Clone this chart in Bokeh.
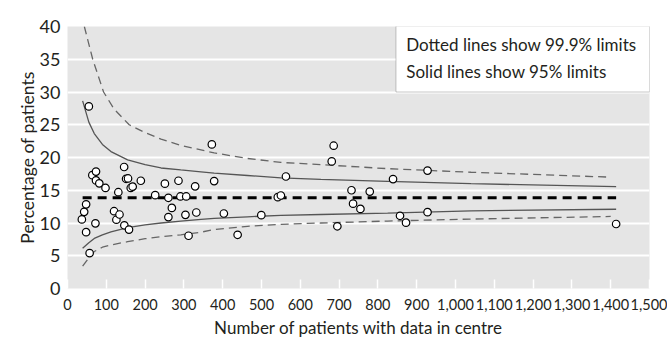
from bokeh.plotting import figure
from bokeh.models import FixedTicker, NumeralTickFormatter, BoxAnnotation, Label, Range1d
from bokeh.embed import file_html
from bokeh.resources import INLINE

# ---- data ----
centre_n = [55, 37, 43, 48, 48, 57, 64, 73.5, 73.5, 82, 72, 98, 120, 126, 134, 131, 146, 151, 156, 163,
            168, 146.5, 158.5, 189, 226, 251, 260, 260, 269, 286, 291, 306, 304, 312, 329, 332, 372, 378,
            403, 438.5, 499.5, 542, 550, 563, 681, 686, 695.5, 732, 736, 755, 779, 839, 857, 872.5, 928,
            928, 1414]
centre_pct = [27.8, 10.55, 11.7, 12.85, 8.6, 5.4, 17.3, 17.85, 16.5, 16.05, 9.95, 15.35, 11.8, 10.5, 11.3,
              14.7, 18.55, 16.75, 16.8, 15.35, 15.55, 9.65, 9.0, 16.45, 14.25, 16.0, 13.85, 10.9, 12.3,
              16.45, 14.05, 14.05, 11.25, 8.05, 15.6, 11.6, 22.0, 16.4, 11.45, 8.2, 11.2, 13.95, 14.2, 17.1,
              19.4, 21.8, 9.5, 15.0, 12.95, 12.15, 14.8, 16.7, 11.1, 10.05, 18.0, 11.65, 9.85]

target_n = [39, 1414]
target_pct = [13.85, 13.85]

limit_n = [39, 55, 69, 90, 112, 155, 200, 241, 292, 344, 378, 464, 550, 653, 825, 1040, 1414]
upper95 = [28.65, 25.4, 23.65, 22.0, 20.9, 19.65, 18.9, 18.4, 18.1, 17.8, 17.6, 17.25, 16.9, 16.65, 16.35, 16.0, 15.55]
lower95 = [6.15, 7.0, 7.65, 8.2, 8.65, 9.3, 9.7, 10.0, 10.3, 10.55, 10.7, 10.95, 11.15, 11.3, 11.5, 11.85, 12.1]

upper999_n = [43.4, 65, 93, 120, 159, 200, 241, 292, 344, 378, 464, 550, 653, 825, 1040, 1400]
upper999 = [40.0, 35.0, 30.0, 27.4, 25.0, 23.8, 22.8, 21.85, 21.15, 20.7, 19.85, 19.25, 18.9, 18.3, 17.75, 17.0]
lower999_n = [39, 55, 69, 90, 112, 155, 200, 241, 292, 344, 378, 464, 550, 653, 825, 1040, 1400]
lower999 = [3.4, 4.7, 5.65, 6.3, 6.65, 7.15, 7.6, 7.9, 8.2, 8.6, 9.0, 9.5, 9.8, 10.0, 10.3, 10.6, 11.0]

x_ticks = list(range(0, 1501, 100))
y_ticks = [0, 5, 10, 15, 20, 25, 30, 35, 40]
grid_ticks = [5, 10, 15, 20, 25, 30, 35]

x_title = "Number of patients with data in centre"
y_title = "Percentage of patients"
legend_lines = ["Dotted lines show 99.9% limits", "Solid lines show 95% limits"]

FONT = "Lato"
TXT = "#231f20"

p = figure(width=667, height=340, output_backend="svg", toolbar_location=None,
           x_range=Range1d(0, 1500), y_range=Range1d(0, 40),
           min_border_left=67, min_border_right=18, min_border_top=26, min_border_bottom=47)
p.background_fill_color = "#e5e5e5"
p.border_fill_color = "white"
p.outline_line_color = None

# grid
p.xgrid.grid_line_color = None
p.ygrid.ticker = FixedTicker(ticks=grid_ticks)
p.ygrid.grid_line_color = "white"
p.ygrid.grid_line_width = 2

# x axis
xa = p.xaxis[0]
xa.ticker = FixedTicker(ticks=x_ticks)
xa.formatter = NumeralTickFormatter(format="0,0")
xa.axis_line_color = None
xa.major_tick_in = 9
xa.major_tick_out = 0
xa.major_tick_line_color = "white"
xa.major_tick_line_width = 1.5
xa.minor_tick_line_color = None
xa.major_label_text_font = FONT
xa.major_label_text_font_size = "14.5px"
xa.major_label_text_color = TXT
xa.major_label_text_line_height = 0.9
xa.major_label_standoff = 10
xa.axis_label = x_title
xa.axis_label_text_font = FONT
xa.axis_label_text_font_size = "17px"
xa.axis_label_text_font_style = "normal"
xa.axis_label_text_color = TXT
xa.axis_label_text_line_height = 0.9
xa.axis_label_standoff = 4

# y axis
ya = p.yaxis[0]
ya.ticker = FixedTicker(ticks=y_ticks)
ya.axis_line_color = None
ya.major_tick_in = 0
ya.major_tick_out = 0
ya.minor_tick_line_color = None
ya.major_label_text_font = FONT
ya.major_label_text_font_size = "18px"
ya.major_label_text_color = TXT
ya.major_label_standoff = 7
ya.axis_label = y_title
ya.axis_label_text_font = FONT
ya.axis_label_text_font_size = "17.5px"
ya.axis_label_text_font_style = "normal"
ya.axis_label_text_color = TXT
ya.axis_label_standoff = -1

# limit lines
p.line(upper999_n, upper999, line_color="#666666", line_width=1.3, line_dash="8 5")
p.line(lower999_n, lower999, line_color="#666666", line_width=1.3, line_dash="8 5")
p.line(limit_n, upper95, line_color="#555555", line_width=1.3)
p.line(limit_n, lower95, line_color="#555555", line_width=1.3)
p.line(target_n, target_pct, line_color="black", line_width=3, line_dash="9 6")

# centres
p.scatter(centre_n, centre_pct, size=7.5, marker="circle", fill_color="white",
          line_color="black", line_width=1.2)

# legend box
box = BoxAnnotation(left=846.6, right=1500, bottom=30.0, top=40.1,
                    fill_color="white", fill_alpha=1.0, line_color="#444444", line_width=1)
p.add_layout(box)
for i, txt in enumerate(legend_lines):
    p.add_layout(Label(x=873, y=[37.2, 33.1][i], text=txt, text_font=FONT, text_font_size="17px",
                       text_color=TXT, text_baseline="middle", text_align="left"))

open("out.html", "w").write(file_html(p, INLINE))
